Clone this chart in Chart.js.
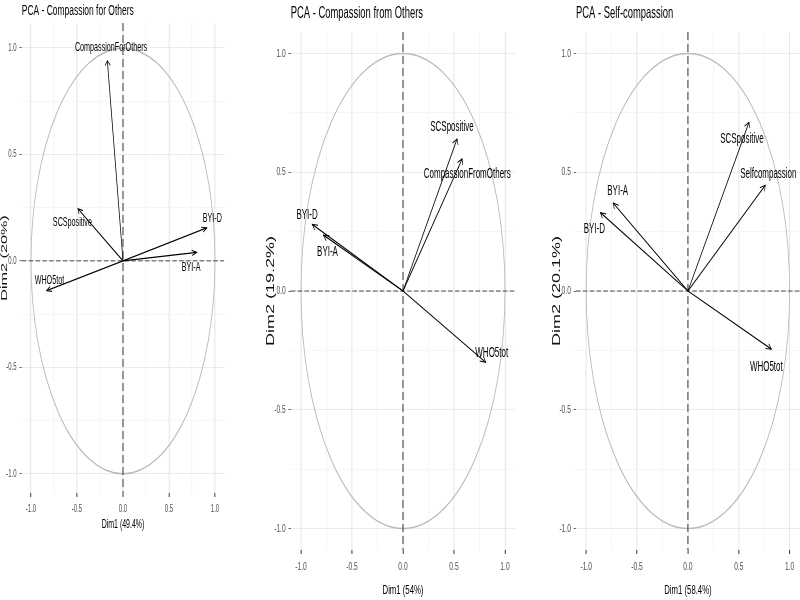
<!DOCTYPE html>
<html>
<head>
<meta charset="utf-8">
<script src="https://cdn.jsdelivr.net/npm/chart.js@4.4.1/dist/chart.umd.min.js"></script>
<style>
  html, body { margin: 0; padding: 0; background: #fff; overflow: hidden; }
  canvas { position: absolute; top: 0; }
</style>
</head>
<body>
<canvas id="pca-others"></canvas>
<canvas id="pca-from"></canvas>
<canvas id="pca-self"></canvas>
<script>
// Titles and axis names
const panelTitles = ['PCA - Compassion for Others', 'PCA - Compassion from Others', 'PCA - Self-compassion'];
const dim1Titles = ['Dim1 (49.4%)', 'Dim1 (54%)', 'Dim1 (58.4%)'];
const dim2Titles = ['Dim2 (20%)', 'Dim2 (19.2%)', 'Dim2 (20.1%)'];

// Compassion for others: variable coordinates
const othersVars = ['CompassionForOthers', 'SCSpositive', 'BYI-D', 'BYI-A', 'WHO5tot'];
const othersDim1 = [-0.17, -0.49, 0.91, 0.80, -0.83];
const othersDim2 = [0.94, 0.245, 0.155, 0.04, -0.14];

// Compassion from others
const fromVars = ['SCSpositive', 'CompassionFromOthers', 'BYI-D', 'BYI-A', 'WHO5tot'];
const fromDim1 = [0.53, 0.58, -0.89, -0.78, 0.81];
const fromDim2 = [0.64, 0.556, 0.28, 0.235, -0.30];

// Self-compassion
const selfVars = ['SCSpositive', 'Selfcompassion', 'BYI-A', 'BYI-D', 'WHO5tot'];
const selfDim1 = [0.60, 0.76, -0.735, -0.86, 0.82];
const selfDim2 = [0.71, 0.445, 0.37, 0.33, -0.245];

// where each variable name sits (data units)
const othersLabelAt = [[-0.13, 1.0], [-0.55, 0.18], [0.97, 0.20], [0.74, -0.03], [-0.80, -0.09]];
const fromLabelAt = [[0.48, 0.69], [0.63, 0.49], [-0.94, 0.32], [-0.74, 0.165], [0.87, -0.26]];
const selfLabelAt = [[0.53, 0.64], [0.79, 0.49], [-0.69, 0.42], [-0.92, 0.26], [0.77, -0.32]];

// The original picture was squeezed sideways: charts are laid out wider
// and the canvas context squeezes everything back down when drawing.
const squeeze = 0.57;
const dpr = window.devicePixelRatio || 1;

// panel frames in screen pixels, fs = font scale
const frames = [
  { cl: 0,   cr: 234, L: 21.8,  R: 224.2, T: 23, B: 493, yMin: -1.09, yMax: 1.117, titleY: 11,   yTitleX: 4,   xTitleY: 525, xTickY: 509, fs: 0.9 },
  { cl: 234, cr: 520, L: 290.8, R: 515.2, T: 32, B: 550, yMin: -1.09, yMax: 1.09,  titleY: 13.3, yTitleX: 271, xTitleY: 590, xTickY: 567, fs: 1 },
  { cl: 520, cr: 800, L: 576,   R: 800,   T: 32, B: 550, yMin: -1.09, yMax: 1.09,  titleY: 13.3, yTitleX: 557, xTitleY: 590, xTickY: 567, fs: 1 }
];

const family = "'Liberation Sans', Arial, sans-serif";
Chart.defaults.font.family = family;

const isMajor = v => Math.abs(v * 2 - Math.round(v * 2)) < 1e-6;

function decorPlugin(title, frame, names, labelAt) {
  return {
    id: 'pcaDecor',
    beforeDraw(chart) {
      chart.ctx.setTransform(squeeze * dpr, 0, 0, dpr, 0, 0);
    },
    beforeDatasetsDraw(chart) {
      const { ctx, chartArea: a, scales: { x, y } } = chart;
      const cx = x.getPixelForValue(0), cy = y.getPixelForValue(0);
      ctx.save();
      ctx.beginPath();
      ctx.rect(a.left, a.top, a.right - a.left, a.bottom - a.top);
      ctx.clip();
      // correlation circle
      ctx.strokeStyle = '#bababa';
      ctx.lineWidth = 1.5;
      ctx.beginPath();
      ctx.ellipse(cx, cy, x.getPixelForValue(1) - cx, cy - y.getPixelForValue(1), 0, 0, 2 * Math.PI);
      ctx.stroke();
      // zero lines
      ctx.setLineDash([8, 4]);
      ctx.strokeStyle = '#1a1a1a';
      ctx.lineWidth = 1;
      ctx.beginPath();
      ctx.moveTo(a.left, cy);
      ctx.lineTo(a.right, cy);
      ctx.stroke();
      ctx.strokeStyle = '#1a1a1a';
      ctx.lineWidth = 1.5;
      ctx.beginPath();
      ctx.moveTo(cx, a.top);
      ctx.lineTo(cx, a.bottom);
      ctx.stroke();
      ctx.restore();
    },
    afterDatasetsDraw(chart) {
      const { ctx, scales: { x, y } } = chart;
      ctx.save();
      ctx.strokeStyle = '#000';
      ctx.lineWidth = 1.1;
      chart.data.datasets.forEach((ds, i) => {
        const pts = chart.getDatasetMeta(i).data;
        const p0 = pts[0], p1 = pts[1];
        // open arrow head, worked out in screen space
        const ang = Math.atan2(p1.y - p0.y, (p1.x - p0.x) * squeeze);
        const len = 6 * frame.fs, spread = 0.5;
        ctx.beginPath();
        ctx.moveTo(p1.x - len * Math.cos(ang - spread) / squeeze, p1.y - len * Math.sin(ang - spread));
        ctx.lineTo(p1.x, p1.y);
        ctx.lineTo(p1.x - len * Math.cos(ang + spread) / squeeze, p1.y - len * Math.sin(ang + spread));
        ctx.stroke();
      });
      ctx.fillStyle = '#000';
      ctx.font = (14 * frame.fs) + 'px ' + family;
      ctx.textAlign = 'center';
      ctx.textBaseline = 'middle';
      names.forEach((n, i) => {
        ctx.fillText(n, x.getPixelForValue(labelAt[i][0]), y.getPixelForValue(labelAt[i][1]));
      });
      ctx.restore();
    },
    afterDraw(chart) {
      const { ctx, chartArea: a } = chart;
      ctx.save();
      ctx.fillStyle = '#000';
      ctx.font = (16.5 * frame.fs) + 'px ' + family;
      ctx.textAlign = 'left';
      ctx.textBaseline = 'middle';
      ctx.fillText(title, a.left, frame.titleY);
      ctx.restore();
    }
  };
}

function makePanel(id, idx, names, dim1, dim2, labelAt) {
  const f = frames[idx];
  const canvas = document.getElementById(id);
  const w = Math.round((f.cr - f.cl) / squeeze);
  canvas.width = w;
  canvas.height = 600;
  canvas.style.left = f.cl + 'px';
  const areaL = (f.L - f.cl) / squeeze;
  const areaR = (f.R - f.cl) / squeeze;
  const tickFont = { size: 11.7 * f.fs, lineHeight: 1.2 };
  const xTitleSize = 13.6 * f.fs, yTitleSize = 18 * f.fs;
  const xh = (f.xTitleY - f.B) + xTitleSize * 1.2 / 2;
  const xTickPad = f.xTickY - f.B - 4 - tickFont.size * tickFont.lineHeight / 2;
  const yTitlePad = (f.yTitleX - f.cl) / squeeze - yTitleSize / 2;

  const gridColor = c => isMajor(c.tick.value) ? '#e6e6e6' : '#f1f1f1';
  const tickColor = c => isMajor(c.tick.value) ? '#333' : 'rgba(0,0,0,0)';

  const chart = new Chart(canvas, {
    type: 'scatter',
    data: {
      datasets: names.map((n, i) => ({
        label: n,
        data: [{ x: 0, y: 0 }, { x: dim1[i], y: dim2[i] }],
        showLine: true,
        borderColor: '#000',
        borderWidth: 1.3,
        pointRadius: 0,
        pointHoverRadius: 0
      }))
    },
    options: {
      responsive: false,
      animation: false,
      events: [],
      devicePixelRatio: 1,
      layout: { padding: { left: 0, right: w - areaR, top: f.T, bottom: 600 - f.B - xh } },
      scales: {
        x: {
          type: 'linear', min: -1.1, max: 1.1,
          afterFit: s => { s.height = xh; },
          border: { display: false },
          grid: {
            color: gridColor, tickColor: tickColor, tickLength: 4, tickWidth: 1.7,
            lineWidth: c => isMajor(c.tick.value) ? 1.8 : 1.3
          },
          ticks: {
            stepSize: 0.25, includeBounds: false, autoSkip: false, maxRotation: 0,
            padding: xTickPad, color: '#4d4d4d', font: tickFont,
            callback: v => isMajor(v) ? v.toFixed(1) : ''
          },
          title: { display: true, text: dim1Titles[idx], color: '#000', padding: 0, font: { size: xTitleSize, lineHeight: 1.2 } }
        },
        y: {
          type: 'linear', min: f.yMin, max: f.yMax,
          afterFit: s => { s.width = areaL; },
          border: { display: false },
          grid: {
            color: gridColor, tickColor: tickColor, tickLength: 4, tickWidth: 1,
            lineWidth: c => isMajor(c.tick.value) ? 1 : 0.8
          },
          ticks: {
            stepSize: 0.25, includeBounds: false, autoSkip: false,
            padding: 5, color: '#4d4d4d', font: tickFont,
            callback: v => isMajor(v) ? v.toFixed(1) : ''
          },
          title: {
            display: true, text: dim2Titles[idx], color: '#111',
            padding: { top: yTitlePad, bottom: 0 },
            font: { size: yTitleSize, lineHeight: 1 }
          }
        }
      },
      plugins: {
        legend: { display: false },
        tooltip: { enabled: false }
      }
    },
    plugins: [decorPlugin(panelTitles[idx], f, names, labelAt)]
  });

  // narrow the bitmap to the screen width and redraw through the squeezed context
  canvas.width = Math.round((f.cr - f.cl) * dpr);
  canvas.height = Math.round(600 * dpr);
  canvas.style.width = (f.cr - f.cl) + 'px';
  canvas.style.height = '600px';
  chart.draw();
}

makePanel('pca-others', 0, othersVars, othersDim1, othersDim2, othersLabelAt);
makePanel('pca-from', 1, fromVars, fromDim1, fromDim2, fromLabelAt);
makePanel('pca-self', 2, selfVars, selfDim1, selfDim2, selfLabelAt);
</script>
</body>
</html>
